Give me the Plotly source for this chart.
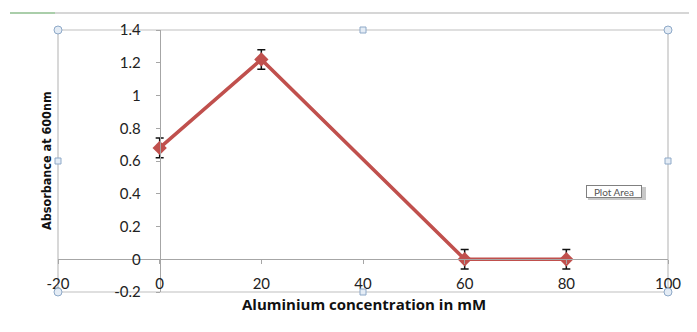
import plotly.graph_objects as go

# Data
concentration = [0, 20, 60, 80]
absorbance = [0.68, 1.22, 0.0, 0.0]
error = [0.06, 0.06, 0.06, 0.06]

x_tickvals = [-20, 0, 20, 40, 60, 80, 100]
x_ticktext = ["-20", "0", "20", "40", "60", "80", "100"]
y_tickvals = [-0.2, 0, 0.2, 0.4, 0.6, 0.8, 1.0, 1.2, 1.4]
y_ticktext = ["-0.2", "0", "0.2", "0.4", "0.6", "0.8", "1", "1.2", "1.4"]

# page offset of the body margin (8px)
OFF = 8
W, H = 697 - OFF, 332 - OFF
# plot area in page pixels: left 58, right 668, top 30, bottom 292
PL, PR, PT, PB = 58, 668, 30, 292
L, T = PL - OFF, PT - OFF
R = W - (PR - OFF)
B = H - (PB - OFF)
pw, ph = PR - PL, PB - PT

def px(xp):
    return (xp - PL) / pw

def py(yp):
    return (PB - yp) / ph

font = "Lato, 'Open Sans', sans-serif"

fig = go.Figure()
fig.add_trace(go.Scatter(
    x=concentration, y=absorbance,
    mode="lines+markers",
    line=dict(color="#C0504D", width=3.5),
    marker=dict(symbol="diamond", size=11, color="#C0504D"),
    error_y=dict(type="data", array=error, visible=True, color="#111111",
                 thickness=1.5, width=4),
    showlegend=False,
    cliponaxis=False,
))

shapes = []
# plot area frame
shapes.append(dict(type="rect", xref="paper", yref="paper", x0=0, x1=1, y0=0, y1=1,
                   line=dict(color="#BFBFBF", width=1.2), layer="below"))
# outer chart border line at top
shapes.append(dict(type="line", xref="paper", yref="paper", x0=px(10), x1=px(690),
                   y0=py(13), y1=py(13), line=dict(color="#C8C8C8", width=1.5)))
shapes.append(dict(type="line", xref="paper", yref="paper", x0=px(10), x1=px(55),
                   y0=py(13), y1=py(13), line=dict(color="#9BCB9B", width=1.5)))
# selection handles
for (hx, hy) in [(58, 30), (668, 30), (58, 292), (668, 292)]:
    shapes.append(dict(type="circle", xref="paper", yref="paper",
                       x0=px(hx - 4), x1=px(hx + 4), y0=py(hy + 4), y1=py(hy - 4),
                       line=dict(color="#8EA9C8", width=1), fillcolor="#E4ECF5"))
for (hx, hy) in [(363, 30), (58, 161), (668, 161), (363, 292)]:
    shapes.append(dict(type="rect", xref="paper", yref="paper",
                       x0=px(hx - 3), x1=px(hx + 3), y0=py(hy + 3), y1=py(hy - 3),
                       line=dict(color="#8EA9C8", width=1), fillcolor="#E4ECF5"))
# shadow for "Plot Area" tooltip
shapes.append(dict(type="rect", xref="paper", yref="paper",
                   x0=px(588), x1=px(646), y0=py(200), y1=py(187),
                   line=dict(width=0), fillcolor="#C8C8C8"))

annotations = [
    dict(text="Plot Area", xref="paper", yref="paper", x=px(614), y=py(191),
         xanchor="center", yanchor="middle",
         showarrow=False, width=54, height=11,
         font=dict(family=font, size=10, color="#555555"),
         bgcolor="white", bordercolor="#808080", borderwidth=1, borderpad=0),
    dict(text="<b>Aluminium concentration in mM</b>", xref="paper", yref="paper",
         x=px(364), y=py(304), xanchor="center", yanchor="middle", showarrow=False,
         font=dict(family="'Open Sans', Lato, sans-serif", size=15, color="#111111")),
    dict(text="<b>Absorbance at 600nm</b>", xref="paper", yref="paper",
         x=px(46), y=py(161), xanchor="center", yanchor="middle",
         showarrow=False, textangle=-90,
         font=dict(family="'Liberation Sans Narrow', 'DejaVu Sans Condensed', sans-serif",
                   size=12.5, color="#111111")),
]

fig.update_layout(
    width=W, height=H, autosize=False,
    margin=dict(l=L, r=R, t=T, b=B),
    plot_bgcolor="white", paper_bgcolor="white",
    shapes=shapes, annotations=annotations,
    xaxis=dict(range=[-20, 100], tickvals=x_tickvals, ticktext=x_ticktext,
               showgrid=False, zeroline=False, showline=True, linecolor="#A6A6A6",
               linewidth=1, ticks="outside", ticklen=4, tickcolor="#A6A6A6",
               anchor="free", position=0.125, ticklabelstandoff=7,
               tickfont=dict(family=font, size=15, color="#222222")),
    yaxis=dict(range=[-0.2, 1.4], tickvals=y_tickvals, ticktext=y_ticktext,
               showgrid=False, zeroline=False, showline=True, linecolor="#A6A6A6",
               linewidth=1, ticks="outside", ticklen=4, tickcolor="#A6A6A6",
               anchor="free", position=20 / 120, ticklabelstandoff=12,
               tickfont=dict(family=font, size=15, color="#222222")),
)

fig.write_html("out.html")
